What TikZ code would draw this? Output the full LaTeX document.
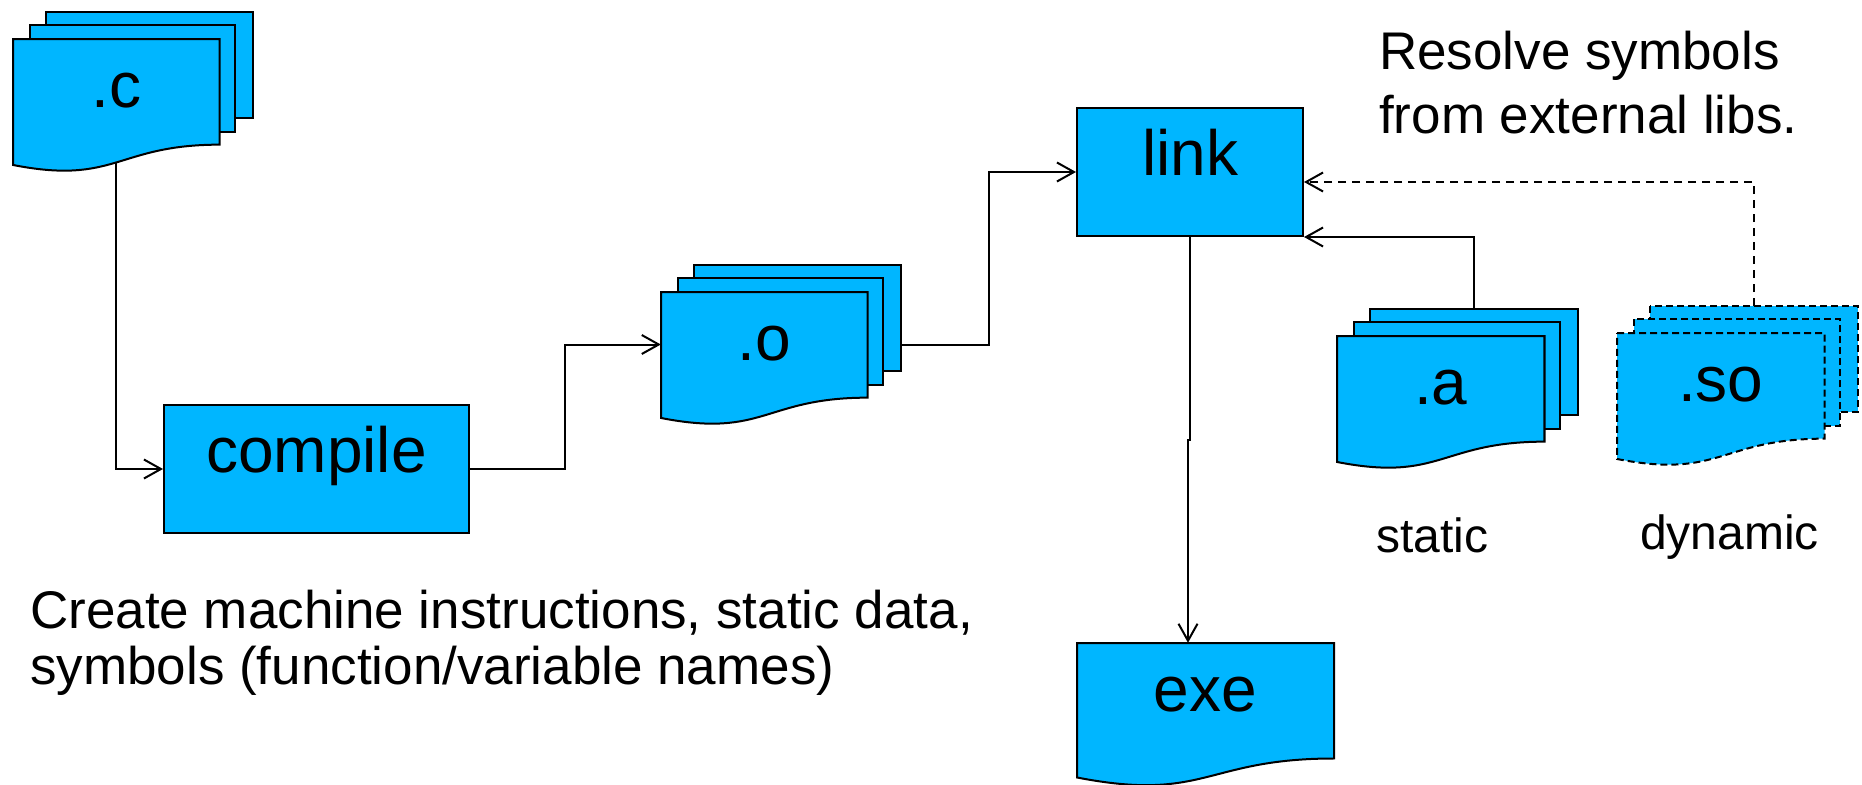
\documentclass[tikz,border=0pt]{standalone}
\usepackage{fontspec}
\setmainfont{Liberation Sans}
\usetikzlibrary{arrows.meta,calc}
\definecolor{docblue}{RGB}{0,182,255}
\tikzset{
  shp/.style={fill=docblue, draw=black, line width=2pt, line join=miter},
  shpd/.style={shp, dash pattern=on 7pt off 4pt},
  conn/.style={line width=2pt, -{Straight Barb[length=17pt,width=19pt,line width=2pt]}},
  connd/.style={conn, dash pattern=on 8pt off 6pt},
  big/.style={font=\fontsize{64}{70}\selectfont, inner sep=0pt, anchor=base},
  note/.style={font=\fontsize{53}{60}\selectfont, inner sep=0pt, anchor=base west},
  lab/.style={font=\fontsize{48}{54}\selectfont, inner sep=0pt, anchor=base},
  boxnode/.style={shp, inner sep=0pt},
}
% multi-document shape: name, x, y, w, h, style, text
\newcommand\mdocshape[7]{%
  \path[#6] ({#2+0.1376*#4},{#3}) rectangle ({#2+#4},{#3+0.6663*#5});
  \path[#6] ({#2+0.0709*#4},{#3+0.0840*#5}) rectangle ({#2+0.9259*#4},{#3+0.7570*#5});
  \path[#6] ({#2},{#3+0.1701*#5}) -- ({#2+0.8609*#4},{#3+0.1701*#5})
     -- ({#2+0.8609*#4},{#3+0.8343*#5})
     .. controls ({#2+0.4305*#4},{#3+0.8343*#5}) and ({#2+0.4305*#4},{#3+1.0899*#5}) ..
     ({#2},{#3+0.9621*#5}) -- cycle;
  \node[inner sep=0pt, minimum width=#4pt, minimum height=#5pt] (#1) at ({#2+#4/2},{#3+#5/2}) {};
  \coordinate (#1-top) at ({#2+0.5688*#4},{#3});
  \coordinate (#1-bot) at ({#2+0.4305*#4},{#3+0.946*#5});
  \coordinate (#1-west) at (#1.west);
  \coordinate (#1-east) at (#1.east);
  \node[big] (#1-text) at ({#2+0.4305*#4},{#3+0.1701*#5+68}) {#7};
}
% single document shape: name, x, y, w, h, style, text
\newcommand\sdocshape[7]{%
  \path[#6] ({#2},{#3}) -- ({#2+#4},{#3}) -- ({#2+#4},{#3+0.802*#5})
     .. controls ({#2+0.5*#4},{#3+0.802*#5}) and ({#2+0.5*#4},{#3+1.1075*#5}) ..
     ({#2},{#3+0.9339*#5}) -- cycle;
  \node[inner sep=0pt, minimum width=#4pt, minimum height=#5pt] (#1) at ({#2+#4/2},{#3+#5/2}) {};
  \node[big] (#1-text) at ({#2+#4/2},{#3+68}) {#7};
}
\begin{document}
\begin{tikzpicture}[x=1pt,y=-1pt]
\path[use as bounding box, clip] (0,0) rectangle (1862,784);

% documents
\mdocshape{c}{13}{12}{240}{159}{shp}{.c}
\mdocshape{o}{661}{265}{240}{159}{shp}{.o}
\mdocshape{a}{1337}{309}{241}{159}{shp}{.a}
\mdocshape{so}{1617}{306}{241}{159}{shpd}{.so}
\sdocshape{exe}{1077}{643}{257}{144}{shp}{exe}

% process boxes
\node[boxnode, minimum width=305pt, minimum height=128pt] (compile) at (316.5,469) {};
\node[big] (compile-text) at ([yshift=-68pt]compile.north) {compile};
\node[boxnode, minimum width=226pt, minimum height=128pt] (link) at (1190,172) {};
\node[big] (link-text) at ([yshift=-68pt]link.north) {link};

\coordinate (exe-in) at ([xshift=-17.5pt]exe.north);

% connectors
\draw[conn] (c-bot) |- (compile.west);
\draw[conn] (compile.east) -| ($(compile.east)!0.5!(o-west)$) |- (o-west);
\draw[conn] (o-east) -| ($(o-east)!0.5!(link.west)$) |- (link.west);
\draw[conn] (a-top) |- (link.south east);
\draw[connd] (so-top) |- ([yshift=-10pt]link.east);
\draw[conn] (link.south) |- ($(link.south)!0.5!(exe-in)$) -| (exe-in);

% labels
\node[lab] (static) at (1432,552) {static};
\node[lab] (dynamic) at (1729.5,549) {dynamic};
\node[note] (res1) at (1379,70) {Resolve symbols};
\node[note] (res2) at (1379,133) {from external libs.};
\node[note] (cre1) at (30,628) {Create machine instructions, static data,};
\node[note] (cre2) at (30,684) {symbols (function/variable names)};
\end{tikzpicture}
\end{document}
